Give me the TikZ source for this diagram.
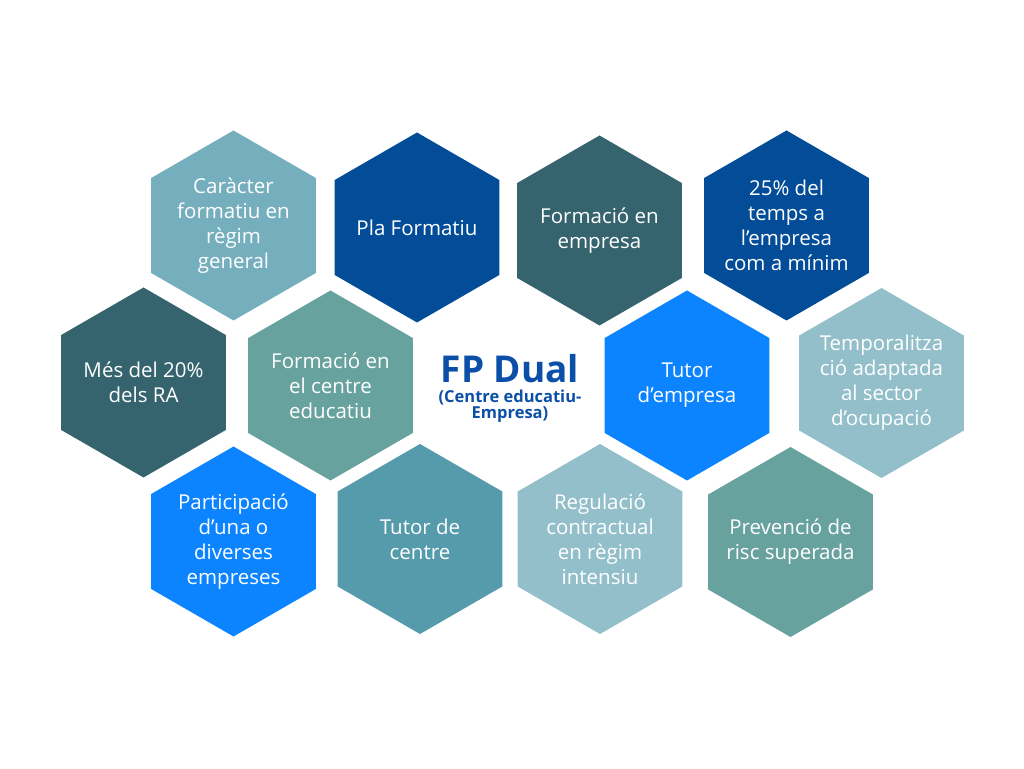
\documentclass[tikz,border=0pt]{standalone}
\usepackage{fontspec}
\setmainfont{Open Sans}
\usetikzlibrary{shapes.geometric,positioning}

\begin{document}
\begin{tikzpicture}[x=1pt, y=1pt,
  hexcell/.style={regular polygon, regular polygon sides=6, shape border rotate=30,
    minimum size=190pt, inner sep=-12pt, text=white, align=center,
    font=\fontsize{20.5}{25}\selectfont}]
  % Define colors
  \definecolor{steel}{RGB}{117,174,189}
  \definecolor{navy}{RGB}{2,76,152}
  \definecolor{slate}{RGB}{53,99,110}
  \definecolor{sage}{RGB}{104,162,159}
  \definecolor{bright}{RGB}{12,132,255}
  \definecolor{pale}{RGB}{147,191,202}
  \definecolor{teal}{RGB}{85,155,171}
  \definecolor{title}{RGB}{11,79,168}

  % Canvas
  \useasboundingbox (0,0) rectangle (1024,768);

  % Top row
  \node[hexcell, fill=steel] (caracter) at (233.5,542.5) {Caràcter\\formatiu en\\règim\\general};
  \node[hexcell, fill=navy] (pla) at (417,540.5) {Pla Formatiu};
  \node[hexcell, fill=slate] (empresa) at (599.5,537.5) {Formació en\\empresa};
  \node[hexcell, fill=navy] (temps) at (786.5,542.5) {25\% del\\temps a\\l’empresa\\com a mínim};

  % Middle row
  \node[hexcell, fill=slate] (ra) at (143.5,385.5) {Més del 20\%\\dels RA};
  \node[hexcell, fill=sage] (centre) at (330.5,382.5) {Formació en\\el centre\\educatiu};
  \node[hexcell, fill=bright] (tutorE) at (687,382.5) {Tutor\\d’empresa};
  \node[hexcell, fill=pale] (temporal) at (881.5,385) {Temporalitza\\ció adaptada\\al sector\\d’ocupació};

  % Bottom row
  \node[hexcell, fill=bright] (particip) at (233.5,226.5) {Participació\\d’una o\\diverses\\empreses};
  \node[hexcell, fill=teal] (tutorC) at (420,229) {Tutor de\\centre};
  \node[hexcell, fill=pale] (regul) at (600,229) {Regulació\\contractual\\en règim\\intensiu};
  \node[hexcell, fill=sage] (prev) at (790.5,226) {Prevenció de\\risc superada};

  % Title
  \node[text=title, font=\fontsize{37}{40}\selectfont\bfseries] (fpdual) at (510,399) {FP Dual};
  \node[text=title, font=\fontsize{16.5}{16}\selectfont\bfseries, align=center,
    below=0pt of fpdual] (sub) {(Centre educatiu-\\Empresa)};
\end{tikzpicture}
\end{document}
